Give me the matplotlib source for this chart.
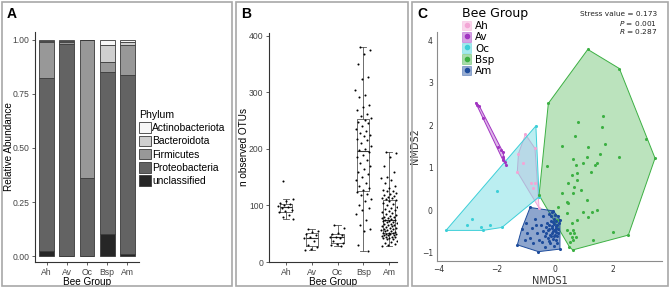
import matplotlib.pyplot as plt
from matplotlib.patches import Rectangle, Patch, Polygon
from matplotlib.lines import Line2D
import numpy as np

# ---- panel A: relative abundance per bee group ----
groups = ['Ah', 'Av', 'Oc', 'Bsp', 'Am']
phyla = ['unclassified', 'Proteobacteria', 'Firmicutes', 'Bacteroidota', 'Actinobacteriota']
unclassified = [0.022, 0.0, 0.0, 0.100, 0.012]
proteobacteria = [0.800, 0.978, 0.360, 0.750, 0.823]
firmicutes = [0.168, 0.012, 0.640, 0.045, 0.140]
bacteroidota = [0.005, 0.005, 0.0, 0.080, 0.015]
actinobacteriota = [0.005, 0.005, 0.0, 0.025, 0.010]
phylum_colors = ['#262626', '#636363', '#989898', '#cfcfcf', '#f7f7f7']

# ---- panel B: observed OTUs ----
otu_ah = [144, 112, 108, 104, 102, 100, 99, 97, 95, 92, 90, 88, 84, 80, 76]
otu_av = [58, 55, 53, 50, 47, 44, 42, 38, 30, 26, 23, 22]
otu_oc = [66, 60, 52, 49, 47, 45, 44, 42, 38, 34, 31, 30, 28]
otu_bsp = [380, 375, 368, 350, 327, 324, 305, 296, 292, 277, 275, 268, 262, 258, 255, 252,
           248, 245, 240, 236, 232, 228, 225, 222, 218, 215, 210, 205, 200, 198,
           195, 190, 185, 180, 175, 170, 165, 160, 155, 150, 145, 140, 135, 130, 127, 124,
           120, 118, 112, 108, 100, 95, 92, 85, 75, 65, 58, 55, 30, 20]
otu_am = [195, 192, 185, 170, 160, 150, 148, 145, 140, 135, 130, 128, 126, 125, 122, 120,
          118, 116, 115, 114, 113, 112, 110, 108,
          105, 102, 100, 98, 96, 94, 92, 90, 88, 86, 85, 83, 82, 80, 79, 78, 77, 76, 75, 74,
          73, 72, 71, 70,
          69, 68, 67, 66, 65, 64, 63, 62, 61, 60, 59, 58, 57, 56, 55, 54, 53, 52, 52, 51, 50, 50,
          49, 48, 48, 47, 46, 45, 45, 44, 43, 42, 41, 40, 38, 36, 34, 32, 30, 28]

# ---- panel C: NMDS ordination ----
ah_x = [-1.02, -0.69, -1.26, -1.09, -1.30, -0.83, -0.69, -0.75, -0.55]
ah_y = [1.78, 1.45, 1.33, 1.11, 0.90, 0.63, 0.63, 0.51, 0.05]
av_x = [-2.74, -2.70, -2.61, -2.47, -1.95, -1.85, -1.80, -1.78, -1.80, -1.74, -1.69]
av_y = [2.53, 2.48, 2.45, 2.16, 1.49, 1.42, 1.37, 1.25, 1.18, 1.14, 1.06]
oc_x = [-3.76, -2.85, -3.05, -2.55, -2.49, -2.24, -1.83, -2.01, -0.66, -0.55]
oc_y = [-0.48, -0.21, -0.36, -0.40, -0.48, -0.35, -0.41, 0.45, 1.98, 0.31]
bsp_x = [-0.23, 1.13, 2.22, 3.45, 2.53, 0.61, -0.55, 0.80, 1.64, 1.61, 0.69, 0.23, 1.72, 1.15,
         1.55, 1.46, 1.38, 1.24, 2.22, 3.14, 0.63, 0.71, 0.95, 0.75, 0.57, 0.46, 0.66, 0.63,
         0.46, 0.43, 0.98, 1.26, 1.44, 1.15, 0.75, 0.57, 0.63, 0.66, 0.57, 0.63, 0.52, 1.32,
         1.99, 0.08, 0.09, -0.29, 0.89, 1.09, 0.75, 0.40, 0.52, 0.72, 0.49, 0.23, 0.43, 1.09, 0.0]
bsp_y = [2.51, 3.78, 3.33, 1.22, -0.59, -0.94, 0.35, 2.08, 2.21, 1.96, 1.74, 1.51, 1.55, 1.49,
         1.33, 1.10, 1.06, 0.90, 1.25, 1.67, 1.19, 1.06, 1.10, 0.86, 0.82, 0.63, 0.55, 0.39,
         0.16, -0.08, -0.04, -0.04, 0.0, -0.16, -0.24, -0.31, -0.47, -0.55, -0.63, -0.71, -0.75, -0.71,
         -0.51, -0.24, 0.08, 1.04, 0.47, 0.24, 0.71, -0.47, -0.55, -0.63, -0.86, 0.39, 0.20, 1.25, -0.12]
am_x = [-1.30, -0.86, -0.06, 0.17, 0.17, -0.57, -1.15, -1.00, -0.95, -0.80, -0.70, -0.62, -0.75,
        -0.50, -0.45, -0.40, -0.35, -0.30, -0.28, -0.25, -0.22, -0.20, -0.18, -0.15, -0.12, -0.10,
        -0.10, -0.08, -0.05, -0.05, -0.03, -0.02, 0.0, 0.0, 0.02, 0.03, 0.05, 0.05, 0.07, 0.08,
        0.10, 0.10, 0.12, 0.13, -0.15, -0.20, -0.25, -0.08, -0.02, 0.04, -0.12, -0.18, -0.30,
        -0.35, -0.42, -0.55, -0.65, -0.85, -1.05, -0.22, 0.08, -0.06, 0.0, -0.14]
am_y = [-0.82, 0.06, -0.02, -0.24, -0.92, -0.98, -0.45, -0.30, -0.55, -0.42, -0.20, -0.55, -0.78,
        -0.35, -0.75, -0.15, -0.88, -0.55, -0.30, -0.65, -0.10, -0.45, -0.78, -0.25, -0.55, -0.05,
        -0.38, -0.68, -0.20, -0.48, -0.85, -0.33, -0.58, -0.12, -0.42, -0.70, -0.25, -0.52, -0.36,
        -0.62, -0.45, -0.15, -0.55, -0.30, -0.62, -0.35, -0.48, -0.50, -0.62, -0.38, -0.42, -0.58,
        -0.40, -0.62, -0.50, -0.70, -0.35, -0.65, -0.70, -0.72, -0.78, -0.28, -0.47, -0.15]
bee_colors = ['#f3a6d6', '#a235c2', '#3dcfd8', '#3cb043', '#1d4c9c']
bee_alpha = [0.35, 0.35, 0.35, 0.35, 0.5]

W, H = 670, 289
fig = plt.figure(figsize=(W / 100, H / 100), dpi=100)

def fx(px):
    return px / W

def fy(py):
    return 1 - py / H

def frame(x0, x1, label):
    fig.add_artist(Rectangle((fx(x0), fy(286)), (x1 - x0) / W, 284 / H, transform=fig.transFigure,
                             fill=False, ec='#a8a8a8', lw=1.2))
    fig.text(fx(x0 + 5), fy(14), label, fontsize=10, fontweight='bold', va='center',
             family='Liberation Sans')

frame(2, 232, 'A')
frame(236, 408, 'B')
frame(412, 668, 'C')

arial = 'Liberation Sans'

def style_gg(ax):
    for s in ['top', 'right']:
        ax.spines[s].set_visible(False)
    for s in ['left', 'bottom']:
        ax.spines[s].set_color('#333333')
        ax.spines[s].set_linewidth(0.8)
    ax.tick_params(labelsize=6.2, colors='#444444', length=2.5, width=0.6, pad=1.5)
    for lab in ax.get_xticklabels() + ax.get_yticklabels():
        lab.set_family(arial)

# ---- A ----
axA = fig.add_axes([fx(35), fy(262), 104 / W, 230 / H])
xpos = np.arange(1, len(groups) + 1)
bottom = np.zeros(len(groups))
for vals, col in zip([unclassified, proteobacteria, firmicutes, bacteroidota, actinobacteriota],
                     phylum_colors):
    axA.bar(xpos, vals, bottom=bottom, width=0.74, color=col, edgecolor='#3a3a3a', lw=0.6)
    bottom += np.array(vals)
axA.set_xlim(0.42, 5.58)
axA.set_ylim(-0.027, 1.035)
axA.set_xticks(xpos)
axA.set_xticklabels(groups)
axA.set_yticks([0, 0.25, 0.5, 0.75, 1.0])
axA.set_yticklabels(['0.00', '0.25', '0.50', '0.75', '1.00'])
style_gg(axA)
axA.set_xlabel('Bee Group', fontsize=7.2, family=arial, labelpad=0.5)
axA.set_ylabel('Relative Abundance', fontsize=7.2, family=arial)
axA.yaxis.set_label_coords((14 - 35) / 104, 0.5)

handles = [Patch(facecolor=c, edgecolor='#3a3a3a', lw=0.6) for c in phylum_colors][::-1]
legA = fig.legend(handles, phyla[::-1], loc='upper left', bbox_to_anchor=(fx(139), fy(110)),
                  frameon=False, title='Phylum', title_fontsize=7.6,
                  handlelength=1.15, handleheight=1.2, labelspacing=0.24, handletextpad=0.15,
                  borderpad=0, borderaxespad=0, alignment='left',
                  prop={'family': arial, 'size': 7.4})
legA.get_title().set_family(arial)

# ---- B ----
axB = fig.add_axes([fx(269), fy(262), 128 / W, 229 / H])
otus = [otu_ah, otu_av, otu_oc, otu_bsp, otu_am]
axB.boxplot(otus, positions=xpos, widths=0.47, whis=1.5, showfliers=False,
            boxprops=dict(color='#555555', lw=0.6),
            whiskerprops=dict(color='#555555', lw=0.6),
            capprops=dict(color='#555555', lw=0.6),
            medianprops=dict(color='#333333', lw=0.8))
for i, vals in enumerate(otus):
    n = len(vals)
    offs = ((np.arange(n) * 0.618034 + 0.3) % 1 - 0.5) * 0.62
    axB.scatter(xpos[i] + offs, vals, s=2.2, color='black', zorder=3, lw=0)
axB.set_xlim(0.35, 5.3)
axB.set_ylim(0, 405)
axB.set_xticks(xpos)
axB.set_xticklabels(groups)
axB.set_yticks([0, 100, 200, 300, 400])
style_gg(axB)
axB.set_xlabel('Bee Group', fontsize=7.2, family=arial, labelpad=0.5)
axB.set_ylabel('n observed OTUs', fontsize=7.2, family=arial)
axB.yaxis.set_label_coords((249 - 269) / 128, 0.5)

# ---- C ----
def hull(xs, ys):
    pts = sorted(set(zip(xs, ys)))
    def cross(o, a, b):
        return (a[0] - o[0]) * (b[1] - o[1]) - (a[1] - o[1]) * (b[0] - o[0])
    lower, upper = [], []
    for p in pts:
        while len(lower) >= 2 and cross(lower[-2], lower[-1], p) <= 0:
            lower.pop()
        lower.append(p)
    for p in reversed(pts):
        while len(upper) >= 2 and cross(upper[-2], upper[-1], p) <= 0:
            upper.pop()
        upper.append(p)
    return lower[:-1] + upper[:-1]

axC = fig.add_axes([fx(437), fy(261), 225 / W, 229 / H])
nmds = [(ah_x, ah_y), (av_x, av_y), (oc_x, oc_y), (bsp_x, bsp_y), (am_x, am_y)]
for (xs, ys), col, al in zip(nmds, bee_colors, bee_alpha):
    axC.add_patch(Polygon(hull(xs, ys), closed=True, facecolor=col, alpha=al, lw=0))
    axC.add_patch(Polygon(hull(xs, ys), closed=True, fill=False, ec=col, lw=0.7))
    axC.scatter(xs, ys, s=5, color=col, lw=0, zorder=3)
axC.set_xlim(-4.07, 3.69)
axC.set_ylim(-1.2, 4.19)
axC.set_xticks([-4, -2, 0, 2])
axC.set_yticks([-1, 0, 1, 2, 3, 4])
for s in ['top', 'right']:
    axC.spines[s].set_visible(False)
for s in ['left', 'bottom']:
    axC.spines[s].set_color('#8c8c8c')
    axC.spines[s].set_linewidth(0.8)
axC.tick_params(labelsize=5.5, colors='#333333', length=0, pad=3)
axC.set_xlabel('NMDS1', fontsize=7, color='#333333', labelpad=1)
axC.set_ylabel('NMDS2', fontsize=7, color='#333333', labelpad=1)

legC_handles = [(Patch(facecolor=c, alpha=0.45, edgecolor=c, lw=0.6),
                 Line2D([], [], ls='', marker='o', ms=3, mfc=c, mec=c)) for c in bee_colors]
legC = fig.legend(legC_handles, groups, loc='upper left', bbox_to_anchor=(fx(462), fy(7)),
                  frameon=False, title='Bee Group', fontsize=7.5, title_fontsize=9,
                  handlelength=0.9, handleheight=1.05, labelspacing=0.08, handletextpad=0.35,
                  borderpad=0, borderaxespad=0, alignment='left')

fig.text(fx(657), fy(14), 'Stress value = 0.173', fontsize=5.3, ha='right', va='center', color='#222222')
fig.text(fx(657), fy(23), r'$\it{P}$ = 0.001', fontsize=5.3, ha='right', va='center', color='#222222')
fig.text(fx(657), fy(32), r'$\it{R}$ = 0.287', fontsize=5.3, ha='right', va='center', color='#222222')

fig.savefig('out.png', dpi=100)
